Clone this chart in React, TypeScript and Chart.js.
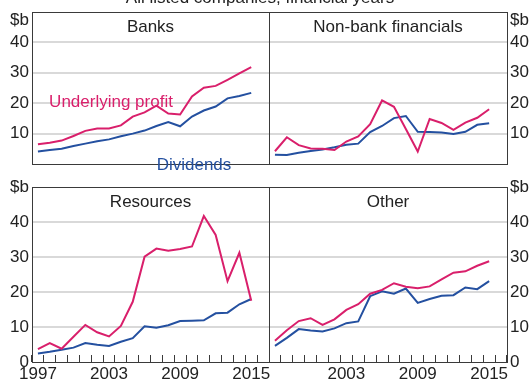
import React, { useEffect, useRef } from 'react';
import { Chart, registerables } from 'chart.js';

Chart.register(...registerables);

// ---------- data ----------
const years = ['1997', '1998', '1999', '2000', '2001', '2002', '2003', '2004', '2005', '2006',
  '2007', '2008', '2009', '2010', '2011', '2012', '2013', '2014', '2015', '2016'];
const xTickLabelsLeft = ['1997', '2003', '2009', '2015'];
const xTickLabelsRight = ['2003', '2009', '2015'];
const yTickValues = [0, 10, 20, 30, 40, 50];

const banksProfit = [6.5, 7.0, 7.7, 9.2, 10.9, 11.7, 11.7, 12.7, 15.6, 17.0, 19.2, 16.6, 16.3, 22.2, 25.1, 25.7, 27.7, 29.8, 31.9];
const banksDividends = [4.1, 4.6, 5.0, 5.9, 6.7, 7.5, 8.1, 9.1, 10.0, 11.0, 12.5, 13.8, 12.4, 15.6, 17.6, 18.9, 21.6, 22.4, 23.4];

const nonBankProfit = [4.2, 8.8, 6.2, 5.1, 5.0, 4.6, 7.4, 9.1, 13.1, 20.9, 18.8, 11.5, 4.1, 14.8, 13.5, 11.2, 13.6, 15.2, 18.0];
const nonBankDividends = [3.05, 2.95, 3.7, 4.3, 4.8, 5.5, 6.3, 6.7, 10.5, 12.5, 15.1, 15.8, 10.6, 10.5, 10.4, 9.9, 10.6, 12.9, 13.4];

const resourcesProfit = [3.7, 5.4, 3.8, 7.2, 10.6, 8.5, 7.3, 10.3, 17.2, 30.1, 32.4, 31.8, 32.3, 33.0, 41.7, 36.3, 23.1, 31.2, 17.5];
const resourcesDividends = [2.4, 2.9, 3.5, 4.1, 5.4, 4.9, 4.6, 5.8, 6.8, 10.2, 9.8, 10.5, 11.7, 11.8, 11.9, 13.9, 14.1, 16.5, 18.0];

const otherProfit = [6.1, 9.1, 11.7, 12.5, 10.6, 12.2, 14.9, 16.5, 19.5, 20.6, 22.5, 21.5, 21.1, 21.6, 23.6, 25.5, 25.9, 27.5, 28.8];
const otherDividends = [4.6, 6.9, 9.4, 9.0, 8.7, 9.6, 11.1, 11.6, 18.8, 20.2, 19.5, 21.0, 16.9, 18.0, 18.9, 19.1, 21.3, 20.8, 23.1];

const chartTitle = 'All listed companies, financial years';
const unitLabel = '$b';

// ---------- styling / layout ----------
const FONT = 'Arial, "Liberation Sans", Helvetica, sans-serif';
const TEXT = '#222222';
const BORDER = '#3a3a3a';
const GRID = '#d9d9d9';
const PINK = '#d91f6b';
const BLUE = '#2450a0';
const W = 531;
const H = 385;
const L = 32;
const M = 269;
const R = 507;
const T = 12;
const MID = 187;
const B = 362;

type Note = { text: string; color: string; x: number; y: number };
type Spec = {
  title: string;
  side: 'left' | 'right';
  bottomRow: boolean;
  profit: number[];
  dividends: number[];
  notes: Note[];
  mainTitle?: boolean;
};

function makeConfig(p: Spec): any {
  const isLeft = p.side === 'left';
  const xLabels = isLeft ? xTickLabelsLeft : xTickLabelsRight;
  const padding = {
    left: isLeft ? 0 : M,
    right: isLeft ? W - M : 0,
    top: p.bottomRow ? MID : T,
    bottom: p.bottomRow ? 0 : H - MID,
  };
  const decor = {
    id: 'decor' + p.title.replace(/\W/g, ''),
    afterDraw(chart: any) {
      const { ctx, chartArea: a } = chart;
      ctx.save();
      ctx.strokeStyle = BORDER;
      ctx.lineWidth = 1;
      ctx.strokeRect(Math.round(a.left) + 0.5, Math.round(a.top) + 0.5,
        Math.round(a.right - a.left), Math.round(a.bottom - a.top));
      ctx.font = `17px ${FONT}`;
      ctx.fillStyle = TEXT;
      ctx.textAlign = 'center';
      ctx.textBaseline = 'alphabetic';
      ctx.fillText(p.title, (a.left + a.right) / 2, a.top + 20);
      for (const n of p.notes) {
        ctx.fillStyle = n.color;
        ctx.fillText(n.text, n.x, n.y);
      }
      if (p.mainTitle) {
        ctx.fillStyle = TEXT;
        ctx.fillText(chartTitle, 260, 3);
      }
      ctx.restore();
    },
  };
  return {
    type: 'line',
    data: {
      labels: years,
      datasets: [
        { label: 'Underlying profit', data: p.profit, borderColor: PINK, backgroundColor: PINK, borderWidth: 2, pointRadius: 0, tension: 0, fill: false },
        { label: 'Dividends', data: p.dividends, borderColor: BLUE, backgroundColor: BLUE, borderWidth: 2, pointRadius: 0, tension: 0, fill: false },
      ],
    },
    options: {
      responsive: false,
      animation: false,
      events: [],
      layout: { autoPadding: false, padding },
      plugins: { legend: { display: false }, tooltip: { enabled: false }, title: { display: false } },
      scales: {
        x: {
          type: 'category',
          offset: true,
          display: p.bottomRow,
          border: { display: false },
          grid: { display: true, offset: true, drawOnChartArea: false, drawTicks: true, tickLength: -7, color: BORDER, lineWidth: 1 },
          ticks: {
            autoSkip: false,
            maxRotation: 0,
            minRotation: 0,
            padding: 9,
            color: TEXT,
            font: { family: FONT, size: 17, lineHeight: 1.2 },
            callback: function (this: any, val: any) {
              const lab = this.getLabelForValue(val);
              return xLabels.includes(lab) ? lab : '';
            },
          },
          afterFit: (s: any) => {
            s.height = H - B;
            s.paddingLeft = 0;
            s.paddingRight = 0;
          },
        },
        y: {
          type: 'linear',
          position: isLeft ? 'left' : 'right',
          min: yTickValues[0],
          max: yTickValues[yTickValues.length - 1],
          border: { display: false },
          grid: {
            drawTicks: false,
            lineWidth: 2,
            color: (c: any) => (c.tick && (c.tick.value === 0 || c.tick.value === 50) ? 'rgba(0,0,0,0)' : GRID),
          },
          ticks: {
            stepSize: 10,
            autoSkip: false,
            padding: 3,
            color: TEXT,
            font: { family: FONT, size: 17, lineHeight: 1 },
            callback: (v: number) => {
              if (v === 50) return p.bottomRow ? unitLabel : ['', unitLabel];
              if (v === 0) return p.bottomRow ? '0' : '';
              return String(v);
            },
          },
          afterFit: (s: any) => {
            s.width = isLeft ? L : W - R;
            s.paddingTop = 0;
            s.paddingBottom = 0;
          },
        },
      },
    },
    plugins: [decor],
  };
}

const specs: Spec[] = [
  {
    title: 'Banks', side: 'left', bottomRow: false, profit: banksProfit, dividends: banksDividends, mainTitle: true,
    notes: [
      { text: 'Underlying profit', color: PINK, x: 111, y: 107 },
      { text: 'Dividends', color: BLUE, x: 194, y: 170 },
    ],
  },
  { title: 'Non-bank financials', side: 'right', bottomRow: false, profit: nonBankProfit, dividends: nonBankDividends, notes: [] },
  { title: 'Resources', side: 'left', bottomRow: true, profit: resourcesProfit, dividends: resourcesDividends, notes: [] },
  { title: 'Other', side: 'right', bottomRow: true, profit: otherProfit, dividends: otherDividends, notes: [] },
];

function Panel({ spec }: { spec: Spec }) {
  const ref = useRef<HTMLCanvasElement>(null);
  useEffect(() => {
    const chart = new Chart(ref.current as HTMLCanvasElement, makeConfig(spec));
    return () => chart.destroy();
  }, [spec]);
  return (
    <canvas
      ref={ref}
      width={W}
      height={H}
      style={{ position: 'absolute', left: 0, top: 0, width: W, height: H }}
    />
  );
}

export default function App() {
  useEffect(() => {
    document.body.style.margin = '0';
    document.body.style.background = '#ffffff';
  }, []);
  return (
    <div style={{ position: 'relative', width: W, height: H, overflow: 'hidden', background: '#ffffff' }}>
      {specs.map((s) => (
        <Panel key={s.title} spec={s} />
      ))}
    </div>
  );
}
